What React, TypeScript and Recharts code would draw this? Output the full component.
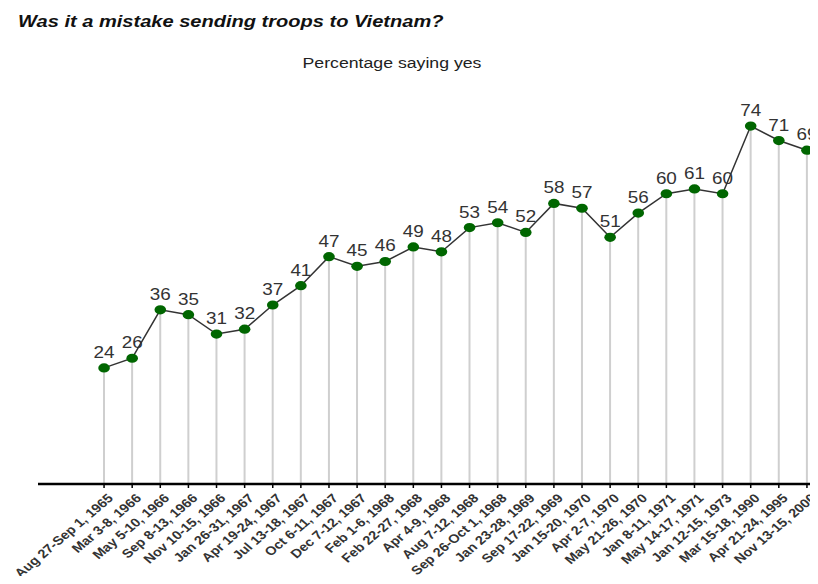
import React from "react";
import { ComposedChart, Line, Bar, XAxis, YAxis } from "recharts";

const dates: string[] = [
  "Aug 27-Sep 1, 1965",
  "Mar 3-8, 1966",
  "May 5-10, 1966",
  "Sep 8-13, 1966",
  "Nov 10-15, 1966",
  "Jan 26-31, 1967",
  "Apr 19-24, 1967",
  "Jul 13-18, 1967",
  "Oct 6-11, 1967",
  "Dec 7-12, 1967",
  "Feb 1-6, 1968",
  "Feb 22-27, 1968",
  "Apr 4-9, 1968",
  "Aug 7-12, 1968",
  "Sep 26-Oct 1, 1968",
  "Jan 23-28, 1969",
  "Sep 17-22, 1969",
  "Jan 15-20, 1970",
  "Apr 2-7, 1970",
  "May 21-26, 1970",
  "Jan 8-11, 1971",
  "May 14-17, 1971",
  "Jan 12-15, 1973",
  "Mar 15-18, 1990",
  "Apr 21-24, 1995",
  "Nov 13-15, 2000",
];

const yesPct: number[] = [
  24, 26, 36, 35, 31, 32, 37, 41, 47, 45, 46, 49, 48, 53, 54, 52, 58, 57, 51,
  56, 60, 61, 60, 74, 71, 69,
];

const title = "Was it a mistake sending troops to Vietnam?";
const subtitle = "Percentage saying yes";

const data = dates.map((d, i) => ({ date: d, yes: yesPct[i] }));

const FONT = "'Liberation Sans', Arial, sans-serif";
const SX = 1.18;

const DateTick = (props: any) => {
  const { x, y, payload } = props;
  return (
    <text
      transform={`translate(${x + 10},${y + 11}) scale(${SX},1) rotate(-45)`}
      textAnchor="end"
      fontFamily={FONT}
      fontSize={12.3}
      fontWeight="bold"
      fill="#333"
    >
      {payload.value}
    </text>
  );
};

const ValueLabel = (props: any) => {
  const { x, y, value, index } = props;
  return (
    <text
      key={`lbl-${index}`}
      transform={`translate(${x},${y - 10}) scale(${SX},1)`}
      textAnchor="middle"
      fontFamily={FONT}
      fontSize={16}
      fill="#333"
    >
      {value}
    </text>
  );
};

const GreenDot = (props: any) => {
  const { cx, cy, index } = props;
  return <ellipse key={`dot-${index}`} cx={cx} cy={cy} rx={5.8} ry={4.6} fill="#006600" />;
};

export default function App() {
  return (
    <div style={{ position: "relative", margin: "-8px", width: 818, height: 584, overflow: "hidden", background: "#fff" }}>
      <svg width={818} height={90} style={{ position: "absolute", left: 0, top: 0 }}>
        <text
          transform={`translate(18,27) scale(${SX},1)`}
          fontFamily={FONT}
          fontWeight="bold"
          fontStyle="italic"
          fontSize={17}
          fill="#111"
        >
          {title}
        </text>
        <text
          transform={`translate(392,68) scale(1.18,1)`}
          textAnchor="middle"
          fontFamily={FONT}
          fontSize={15}
          fill="#222"
        >
          {subtitle}
        </text>
      </svg>
      <div style={{ position: "absolute", left: 0, top: 0 }}>
        <ComposedChart
          width={830}
          height={584}
          data={data}
          margin={{ top: 97, right: 9, bottom: 0, left: 38 }}
        >
          <YAxis hide domain={[0, 80]} />
          <XAxis
            dataKey="date"
            interval={0}
            height={100}
            padding={{ left: 52, right: 0 }}
            tick={<DateTick />}
            tickSize={4}
            tickMargin={0}
            tickLine={{ stroke: "#000", strokeWidth: 1.5 }}
            axisLine={{ stroke: "#000", strokeWidth: 2.5 }}
          />
          <Bar dataKey="yes" barSize={2} fill="#cfcfcf" isAnimationActive={false} />
          <Line
            dataKey="yes"
            stroke="#333"
            strokeWidth={1.5}
            dot={GreenDot}
            activeDot={false}
            label={ValueLabel}
            isAnimationActive={false}
          />
        </ComposedChart>
      </div>
    </div>
  );
}
